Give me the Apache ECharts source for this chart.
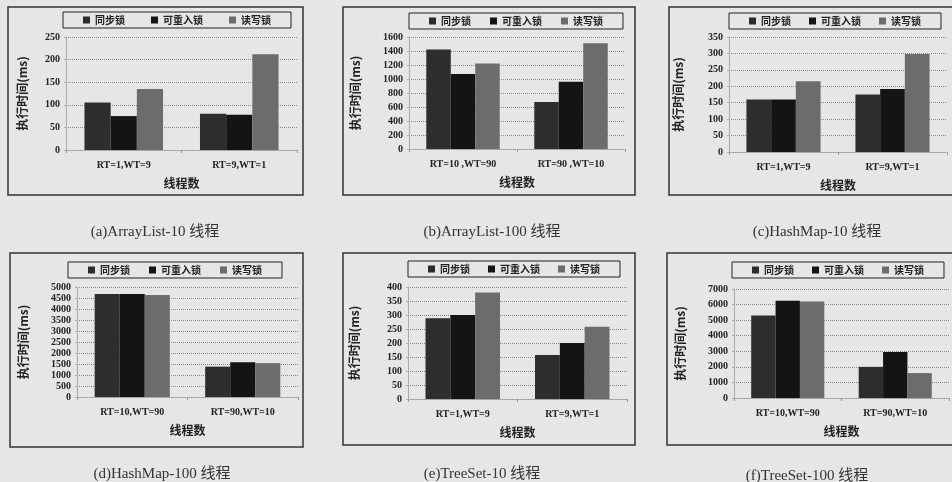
<!DOCTYPE html>
<html>
<head>
<meta charset="utf-8">
<script src="https://cdn.jsdelivr.net/npm/echarts@6/dist/echarts.min.js"></script>
<style>
  html, body { margin: 0; padding: 0; background: #e6e6e6; }
  #chart { width: 952px; height: 482px; }
</style>
</head>
<body>
<div id="chart"></div>
<script>
// 数据
const seriesNames = ['同步锁', '可重入锁', '读写锁'];

const catsA = ['RT=1,WT=9', 'RT=9,WT=1'];
const catsB = ['RT=10 ,WT=90', 'RT=90 ,WT=10'];
const catsC = ['RT=1,WT=9', 'RT=9,WT=1'];
const catsD = ['RT=10,WT=90', 'RT=90,WT=10'];
const catsE = ['RT=1,WT=9', 'RT=9,WT=1'];
const catsF = ['RT=10,WT=90', 'RT=90,WT=10'];

// 每个数组: [同步锁, 可重入锁, 读写锁], 每项对应两个类别
const valuesA = [[105, 80], [75, 78], [135, 212]];
const valuesB = [[1420, 670], [1070, 960], [1220, 1510]];
const valuesC = [[160, 175], [160, 192], [215, 298]];
const valuesD = [[4680, 1380], [4680, 1580], [4640, 1540]];
const valuesE = [[288, 157], [300, 200], [380, 258]];
const valuesF = [[5300, 2000], [6250, 2950], [6200, 1600]];

const yMax = [250, 1600, 350, 5000, 400, 7000];
const yStep = [50, 200, 50, 500, 50, 1000];

const captions = [
  '(a)ArrayList-10 线程',
  '(b)ArrayList-100 线程',
  '(c)HashMap-10 线程',
  '(d)HashMap-100 线程',
  '(e)TreeSet-10 线程',
  '(f)TreeSet-100 线程'
];

const allCats = [catsA, catsB, catsC, catsD, catsE, catsF];
const allValues = [valuesA, valuesB, valuesC, valuesD, valuesE, valuesF];

// 版面
const panels = [
  { grid: [66, 37, 231, 113], box: [8, 7, 295, 188], legend: [63, 12, 230], nameGap: 38, cap: [150, 220] },
  { grid: [409, 37, 216, 112], box: [343, 7, 292, 188], legend: [409, 13, 217], nameGap: 48, cap: [487, 220] },
  { grid: [729, 37, 218, 115], box: [669, 7, 290, 188], legend: [729, 13, 215], nameGap: 45, cap: [812, 220] },
  { grid: [77, 287, 221, 110], box: [10, 253, 293, 194], legend: [68, 262, 217], nameGap: 48, cap: [157, 462] },
  { grid: [408, 287, 219, 112], box: [343, 253, 292, 192], legend: [408, 261, 215], nameGap: 48, cap: [477, 462] },
  { grid: [734, 289, 215, 109], box: [667, 253, 290, 192], legend: [732, 262, 215], nameGap: 48, cap: [802, 464] }
];

const colors = ['#2d2d2d', '#141414', '#6c6c6c'];
const serif = 'Liberation Serif, Noto Sans CJK SC, serif';
const cjk = 'Noto Sans CJK SC, sans-serif';

const grid = [], xAxis = [], yAxis = [], series = [], legend = [], title = [], graphic = [];

panels.forEach((p, i) => {
  grid.push({ left: p.grid[0], top: p.grid[1], width: p.grid[2], height: p.grid[3] });
  xAxis.push({
    type: 'category',
    gridIndex: i,
    data: allCats[i],
    name: '线程数',
    nameLocation: 'middle',
    nameGap: 27,
    nameTextStyle: { fontFamily: cjk, fontWeight: 'bold', fontSize: 12, color: '#222' },
    axisLine: { lineStyle: { color: '#999', type: 'dotted' } },
    axisTick: { show: true, length: 3, lineStyle: { color: '#999' } },
    axisLabel: { fontFamily: serif, fontWeight: 'bold', fontSize: 10, color: '#222', margin: 10 }
  });
  yAxis.push({
    type: 'value',
    gridIndex: i,
    min: 0,
    max: yMax[i],
    interval: yStep[i],
    name: '执行时间(ms)',
    nameLocation: 'middle',
    nameGap: p.nameGap,
    nameTextStyle: { fontFamily: cjk, fontWeight: 'bold', fontSize: 12, color: '#222' },
    axisLine: { show: true, lineStyle: { color: '#aaa' } },
    axisTick: { show: true, length: 2, lineStyle: { color: '#aaa' } },
    axisLabel: {
      fontFamily: serif, fontWeight: 'bold', fontSize: 10, color: '#222', margin: 6,
      formatter: v => String(v)
    },
    splitLine: { lineStyle: { color: '#8a8a8a', type: 'dotted' } }
  });
  seriesNames.forEach((name, s) => {
    series.push({
      name: name,
      type: 'bar',
      xAxisIndex: i,
      yAxisIndex: i,
      data: allValues[i][s],
      barGap: '0%',
      barCategoryGap: '32%',
      itemStyle: { color: colors[s] }
    });
  });
  // 估算图例项间距
  const textW = 43 + 53 + 43;
  const gap = Math.max(8, Math.round((p.legend[2] - 40 - textW) / 2));
  legend.push({
    left: p.legend[0],
    top: p.legend[1],
    data: seriesNames,
    icon: 'rect',
    itemWidth: 7,
    itemHeight: 7,
    itemGap: gap,
    padding: [3, 20, 3, 20],
    borderColor: '#222',
    borderWidth: 1,
    selectedMode: false,
    textStyle: { fontFamily: cjk, fontWeight: 'bold', fontSize: 10, color: '#222' }
  });
  title.push({
    text: captions[i],
    left: p.cap[0],
    top: p.cap[1],
    textAlign: 'center',
    textStyle: { fontFamily: serif, fontWeight: 'normal', fontSize: 15, color: '#333' }
  });
  graphic.push({
    type: 'rect',
    silent: true,
    shape: { x: p.box[0], y: p.box[1], width: p.box[2], height: p.box[3] },
    style: { fill: 'none', stroke: '#333', lineWidth: 1.5 }
  });
});

const myChart = echarts.init(document.getElementById('chart'));
myChart.setOption({
  backgroundColor: '#e6e6e6',
  animation: false,
  color: colors,
  title: title,
  legend: legend,
  grid: grid,
  xAxis: xAxis,
  yAxis: yAxis,
  series: series,
  graphic: graphic
});
</script>
</body>
</html>
